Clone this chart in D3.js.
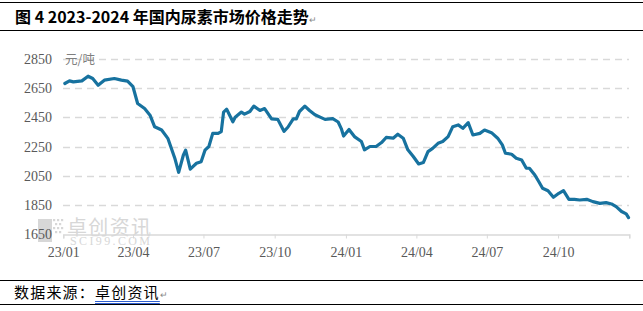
<!DOCTYPE html>
<html><head><meta charset="utf-8">
<script src="https://cdn.jsdelivr.net/npm/d3@7"></script>
<style>
html,body{margin:0;padding:0;background:#fff;}
svg{display:block;}
</style></head>
<body>
<svg id="chart" width="643" height="311"></svg>
<script>
const dates = ["2023-01-03","2023-01-09","2023-01-14","2023-01-25","2023-02-02","2023-02-08","2023-02-15","2023-02-23","2023-03-08","2023-03-17","2023-03-25","2023-04-01","2023-04-07","2023-04-16","2023-04-23","2023-04-29","2023-05-08","2023-05-16","2023-05-25","2023-05-30","2023-06-05","2023-06-08","2023-06-14","2023-06-22","2023-06-28","2023-07-03","2023-07-08","2023-07-13","2023-07-20","2023-07-24","2023-07-27","2023-07-31","2023-08-08","2023-08-11","2023-08-19","2023-08-23","2023-08-30","2023-09-04","2023-09-12","2023-09-18","2023-09-27","2023-10-05","2023-10-13","2023-10-18","2023-10-25","2023-10-29","2023-11-02","2023-11-09","2023-11-15","2023-11-22","2023-11-28","2023-12-05","2023-12-15","2023-12-22","2023-12-26","2023-12-29","2024-01-05","2024-01-12","2024-01-21","2024-01-25","2024-02-01","2024-02-09","2024-02-16","2024-02-22","2024-03-02","2024-03-08","2024-03-15","2024-03-21","2024-03-28","2024-04-04","2024-04-10","2024-04-16","2024-04-22","2024-04-29","2024-05-05","2024-05-12","2024-05-18","2024-05-25","2024-05-31","2024-06-07","2024-06-13","2024-06-22","2024-06-28","2024-07-07","2024-07-15","2024-07-21","2024-07-25","2024-08-02","2024-08-08","2024-08-15","2024-08-21","2024-08-25","2024-09-01","2024-09-06","2024-09-11","2024-09-18","2024-09-25","2024-10-02","2024-10-08","2024-10-15","2024-10-22","2024-10-29","2024-11-07","2024-11-15","2024-11-24","2024-12-02","2024-12-09","2024-12-15","2024-12-22","2024-12-28","2024-12-31"];
const prices = [2682,2700,2693,2700,2732,2716,2670,2705,2716,2705,2698,2660,2545,2510,2465,2385,2363,2306,2170,2073,2190,2225,2095,2135,2146,2225,2250,2340,2340,2352,2486,2505,2420,2450,2486,2472,2490,2527,2497,2510,2440,2436,2354,2382,2440,2440,2490,2527,2497,2468,2453,2436,2441,2418,2373,2322,2367,2318,2284,2227,2250,2250,2277,2312,2307,2334,2307,2227,2181,2130,2140,2215,2237,2272,2284,2318,2386,2398,2375,2413,2329,2340,2363,2345,2307,2261,2204,2197,2170,2158,2101,2101,2055,2010,1964,1947,1902,1929,1947,1888,1888,1883,1888,1872,1860,1865,1856,1838,1804,1788,1762];
const yTicks = [1650,1850,2050,2250,2450,2650,2850];
const xTickLabels = ["23/01","23/04","23/07","23/10","24/01","24/04","24/07","24/10"];
const xTickDates = ["2023-01-01","2023-04-01","2023-07-01","2023-10-01","2024-01-01","2024-04-01","2024-07-01","2024-10-01","2025-01-01"];
const titleText = "图 4  2023-2024 年国内尿素市场价格走势";
const unitText = "元/吨";
const sourceLabel = "数据来源：";
const sourceName = "卓创资讯";

const svg = d3.select("#chart");
const parse = d3.timeParse("%Y-%m-%d");
const data = dates.map((d,i)=>({date:parse(d), v:prices[i]}));

const x = d3.scaleTime().domain([parse("2023-01-01"), parse("2025-01-01")]).range([63.3, 629.3]);
const y = d3.scaleLinear().domain([1650, 2850]).range([234, 59]);

const serif = "'Liberation Serif','Times New Roman',serif";
const cjk = "'Noto Sans CJK SC',sans-serif";

// frame lines
[2.5,30.5,280.5,304.5].forEach(yy=>{
  svg.append("line").attr("x1",0).attr("x2",643).attr("y1",yy).attr("y2",yy).attr("stroke","#000").attr("stroke-width",1);
});

// title
const t = svg.append("text").attr("x",15).attr("y",23).attr("font-family",cjk).attr("font-weight","bold").attr("font-size",16).attr("fill","#000");
t.append("tspan").text(titleText);
t.append("tspan").attr("font-size",9).attr("fill","#888").attr("font-weight","normal").text("↵");

// gridlines
svg.append("g").selectAll("line").data(yTicks.filter(d=>d>1650)).join("line")
  .attr("x1",63).attr("x2",629).attr("y1",d=>Math.round(y(d))+0.5).attr("y2",d=>Math.round(y(d))+0.5)
  .attr("stroke","#d9d9d9").attr("stroke-width",1.3).attr("stroke-dasharray","7,5");

// watermark
const wm = svg.append("g").attr("opacity",0.6);
wm.append("rect").attr("x",38).attr("y",219).attr("width",14).attr("height",23).attr("fill","#bdbdbd");
const dots = [[53,219],[57,219],[61,219],[55,223],[59,223],[53,227],[57,227],[61,227],[55,231],[59,231]];
wm.selectAll("rect.d").data(dots).join("rect").attr("class","d").attr("x",d=>d[0]).attr("y",d=>d[1]).attr("width",2.2).attr("height",2.2).attr("fill","#bdbdbd");
wm.append("text").attr("x",67).attr("y",235).attr("font-family",cjk).attr("font-size",20).attr("fill","#bdbdbd").attr("textLength",84).text(sourceName);
wm.append("text").attr("x",70).attr("y",245).attr("font-family",serif).attr("font-size",12).attr("fill","#bdbdbd").attr("textLength",80).text("SCI99.COM");

// y axis labels
svg.append("g").selectAll("text").data(yTicks).join("text")
  .attr("x",52).attr("y",d=>y(d)+5).attr("text-anchor","end")
  .attr("font-family",serif).attr("font-size",14).attr("fill","#595959").text(d=>d);

svg.append("text").attr("x",65).attr("y",64).attr("font-family",cjk).attr("font-size",12.5).attr("fill","#7f7f7f").text(unitText);

// x axis
const xAxis = d3.axisBottom(x).tickValues(xTickDates.map(parse)).tickSize(4).tickFormat((d,i)=> xTickLabels[i] || "");
const gx = svg.append("g").attr("transform","translate(0,234.5)").call(xAxis);
gx.select(".domain").attr("stroke","#d9d9d9").attr("stroke-width",1.3);
gx.selectAll(".tick line").attr("stroke","#d9d9d9");
gx.selectAll(".tick text").attr("font-family",serif).attr("font-size",14).attr("fill","#595959").attr("y",13).attr("dy","0.71em");

// line
const line = d3.line().x(d=>x(d.date)).y(d=>y(d.v)).curve(d3.curveLinear);
svg.append("path").datum(data).attr("d",line).attr("fill","none")
  .attr("stroke","#17729f").attr("stroke-width",3.2).attr("stroke-linejoin","round").attr("stroke-linecap","round");

// footer
const f = svg.append("text").attr("x",14).attr("y",298).attr("font-family",cjk).attr("font-size",15).attr("letter-spacing",1.2).attr("fill","#000");
f.append("tspan").text(sourceLabel);
const nameSpan = f.append("tspan").text(sourceName);
f.append("tspan").attr("font-size",9).attr("fill","#888").attr("letter-spacing",0).text("↵");
const start = nameSpan.node().getStartPositionOfChar(0).x;
const end = nameSpan.node().getEndPositionOfChar(sourceName.length-1).x;
svg.append("line").attr("x1",start).attr("x2",end).attr("y1",301.5).attr("y2",301.5).attr("stroke","#2f5fd0").attr("stroke-width",1);
svg.append("line").attr("x1",start).attr("x2",end).attr("y1",303.5).attr("y2",303.5).attr("stroke","#2f5fd0").attr("stroke-width",1);
</script>
</body></html>
